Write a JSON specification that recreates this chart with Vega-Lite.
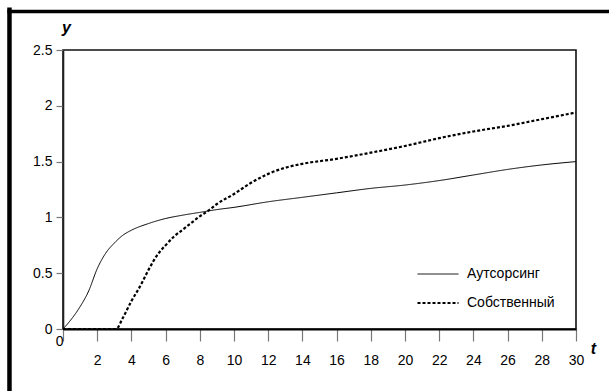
{
  "$schema": "https://vega.github.io/schema/vega-lite/v6.json",
  "autosize": {"type": "none"},
  "padding": {"left": 63, "top": 50, "right": 33, "bottom": 62},
  "width": 513,
  "height": 279,
  "background": "white",
  "config": {
    "view": {"stroke": "#111", "strokeWidth": 1.6},
    "font": "Liberation Sans"
  },
  "resolve": {
    "scale": {"x": "independent", "y": "independent"},
    "axis": {"x": "independent", "y": "independent"}
  },
  "datasets": {
    "curves": [
      {"t": 0, "y": 0, "s": "Аутсорсинг"},
      {"t": 0.5, "y": 0.09, "s": "Аутсорсинг"},
      {"t": 1, "y": 0.2, "s": "Аутсорсинг"},
      {"t": 1.5, "y": 0.34, "s": "Аутсорсинг"},
      {"t": 2, "y": 0.54, "s": "Аутсорсинг"},
      {"t": 2.5, "y": 0.68, "s": "Аутсорсинг"},
      {"t": 3, "y": 0.77, "s": "Аутсорсинг"},
      {"t": 3.5, "y": 0.84, "s": "Аутсорсинг"},
      {"t": 4, "y": 0.885, "s": "Аутсорсинг"},
      {"t": 5, "y": 0.945, "s": "Аутсорсинг"},
      {"t": 6, "y": 0.99, "s": "Аутсорсинг"},
      {"t": 7, "y": 1.02, "s": "Аутсорсинг"},
      {"t": 8, "y": 1.045, "s": "Аутсорсинг"},
      {"t": 9, "y": 1.07, "s": "Аутсорсинг"},
      {"t": 10, "y": 1.09, "s": "Аутсорсинг"},
      {"t": 12, "y": 1.14, "s": "Аутсорсинг"},
      {"t": 14, "y": 1.18, "s": "Аутсорсинг"},
      {"t": 16, "y": 1.22, "s": "Аутсорсинг"},
      {"t": 18, "y": 1.26, "s": "Аутсорсинг"},
      {"t": 20, "y": 1.29, "s": "Аутсорсинг"},
      {"t": 22, "y": 1.33, "s": "Аутсорсинг"},
      {"t": 24, "y": 1.38, "s": "Аутсорсинг"},
      {"t": 26, "y": 1.43, "s": "Аутсорсинг"},
      {"t": 28, "y": 1.47, "s": "Аутсорсинг"},
      {"t": 30, "y": 1.5, "s": "Аутсорсинг"},
      {"t": 0, "y": 0, "s": "Собственный"},
      {"t": 3.1, "y": 0, "s": "Собственный"},
      {"t": 3.5, "y": 0.1, "s": "Собственный"},
      {"t": 4, "y": 0.25, "s": "Собственный"},
      {"t": 4.5, "y": 0.38, "s": "Собственный"},
      {"t": 5, "y": 0.53, "s": "Собственный"},
      {"t": 5.5, "y": 0.66, "s": "Собственный"},
      {"t": 6, "y": 0.75, "s": "Собственный"},
      {"t": 6.5, "y": 0.83, "s": "Собственный"},
      {"t": 7, "y": 0.89, "s": "Собственный"},
      {"t": 7.5, "y": 0.95, "s": "Собственный"},
      {"t": 8, "y": 1.01, "s": "Собственный"},
      {"t": 8.5, "y": 1.06, "s": "Собственный"},
      {"t": 9, "y": 1.12, "s": "Собственный"},
      {"t": 10, "y": 1.21, "s": "Собственный"},
      {"t": 11, "y": 1.31, "s": "Собственный"},
      {"t": 12, "y": 1.39, "s": "Собственный"},
      {"t": 13, "y": 1.445, "s": "Собственный"},
      {"t": 14, "y": 1.48, "s": "Собственный"},
      {"t": 16, "y": 1.525, "s": "Собственный"},
      {"t": 18, "y": 1.58, "s": "Собственный"},
      {"t": 20, "y": 1.64, "s": "Собственный"},
      {"t": 22, "y": 1.71, "s": "Собственный"},
      {"t": 24, "y": 1.77, "s": "Собственный"},
      {"t": 26, "y": 1.82, "s": "Собственный"},
      {"t": 28, "y": 1.88, "s": "Собственный"},
      {"t": 30, "y": 1.94, "s": "Собственный"}
    ]
  },
  "layer": [
    {
      "data": {"name": "curves"},
      "mark": {"type": "line", "interpolate": "monotone", "color": "black"},
      "encoding": {
        "x": {
          "field": "t", "type": "quantitative",
          "scale": {"domain": [0, 30], "nice": false, "zero": false},
          "axis": {
            "values": [0, 2, 4, 6, 8, 10, 12, 14, 16, 18, 20, 22, 24, 26, 28, 30],
            "grid": false, "labelOverlap": false, "labelFlush": false, "labelBound": false,
            "domainColor": "black", "domainWidth": 2.2,
            "tickColor": "#777", "tickWidth": 1.2, "tickSize": 12,
            "labelFont": "Liberation Sans", "labelFontSize": 14, "labelColor": "black",
            "labelBaseline": "top",
            "labelAlign": {"condition": {"test": "datum.value == 0", "value": "right"}, "value": "center"},
            "labelPadding": {"condition": {"test": "datum.value == 0", "value": -7}, "value": 12},
            "title": "t",
            "titleFont": "Liberation Sans", "titleFontSize": 16, "titleFontWeight": "bold", "titleFontStyle": "italic",
            "titleX": 530, "titleY": 24, "titleAlign": "center", "titleBaseline": "alphabetic"
          }
        },
        "y": {
          "field": "y", "type": "quantitative",
          "scale": {"domain": [0, 2.5], "nice": false},
          "axis": {
            "values": [0, 0.5, 1, 1.5, 2, 2.5],
            "grid": false, "labelOverlap": false, "format": "~g",
            "domainColor": "#222", "domainWidth": 1.6,
            "tickColor": "#777", "tickWidth": 1.2, "tickSize": 7,
            "labelFont": "Liberation Sans", "labelFontSize": 14, "labelColor": "black",
            "labelPadding": 4,
            "title": "y", "titleAngle": 0,
            "titleFont": "Liberation Sans", "titleFontSize": 16, "titleFontWeight": "bold", "titleFontStyle": "italic",
            "titleX": 3, "titleY": -18, "titleAlign": "center", "titleBaseline": "alphabetic"
          }
        },
        "strokeDash": {
          "field": "s", "type": "nominal",
          "scale": {"domain": ["Аутсорсинг", "Собственный"], "range": [[1, 0], [3, 2]]},
          "legend": {
            "title": null, "orient": "none", "legendX": 353, "legendY": 203,
            "symbolType": "stroke", "symbolSize": 1680, "symbolStrokeColor": "black",
            "labelFont": "Liberation Sans", "labelFontSize": 14, "labelColor": "black",
            "labelOffset": 7, "rowPadding": -21
          }
        },
        "strokeWidth": {
          "field": "s", "type": "nominal",
          "scale": {"domain": ["Аутсорсинг", "Собственный"], "range": [1, 2.2]},
          "legend": {
            "title": null, "orient": "none", "legendX": 353, "legendY": 203,
            "symbolType": "stroke", "symbolSize": 1680, "symbolStrokeColor": "black",
            "labelFont": "Liberation Sans", "labelFontSize": 14, "labelColor": "black",
            "labelOffset": 7, "rowPadding": -21
          }
        }
      }
    },
    {
      "data": {"values": [{}]},
      "mark": {"type": "rule", "color": "black", "strokeWidth": 4.5},
      "encoding": {
        "x": {"datum": -3.13, "type": "quantitative", "scale": {"domain": [0, 30], "nice": false, "zero": false}, "axis": null},
        "y": {"datum": 2.88, "type": "quantitative", "scale": {"domain": [0, 2.5], "nice": false}, "axis": null},
        "y2": {"datum": -0.6}
      }
    },
    {
      "data": {"values": [{}]},
      "mark": {"type": "rule", "color": "black", "strokeWidth": 3.6},
      "encoding": {
        "x": {"datum": -3.25, "type": "quantitative", "scale": {"domain": [0, 30], "nice": false, "zero": false}, "axis": null},
        "x2": {"datum": 33},
        "y": {"datum": 2.845, "type": "quantitative", "scale": {"domain": [0, 2.5], "nice": false}, "axis": null}
      }
    }
  ]
}
